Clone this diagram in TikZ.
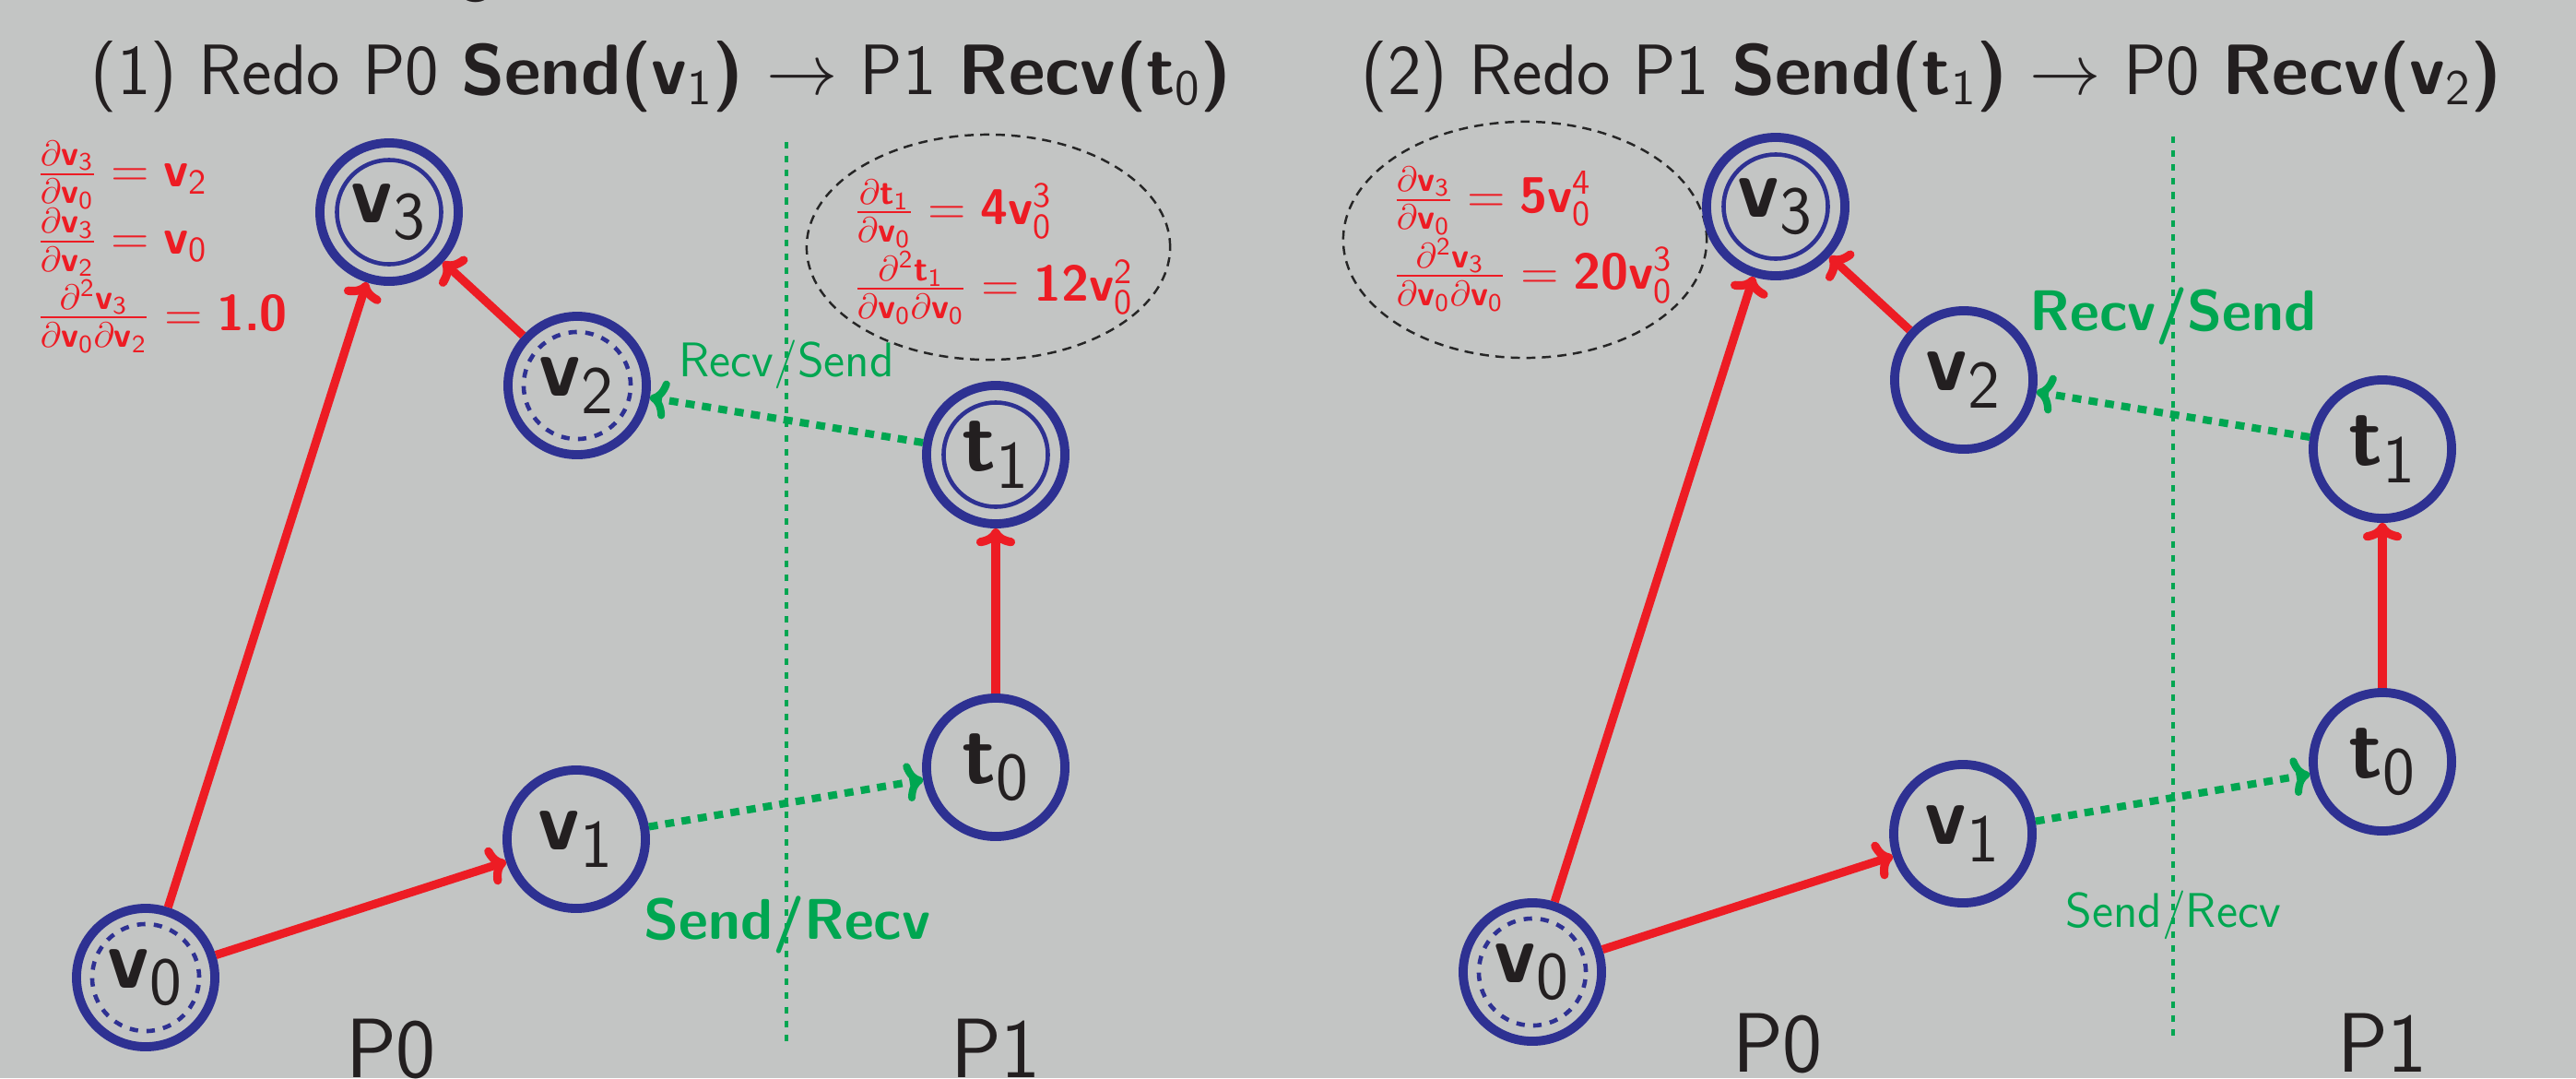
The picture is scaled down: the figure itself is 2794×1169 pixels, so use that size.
\RequirePackage{fix-cm}
\documentclass[tikz,border=0pt]{standalone}
\usepackage{amsmath}
\usepackage{fontspec}
\usetikzlibrary{arrows.meta,shapes.geometric}

\DeclareMathSizes{26}{26}{21}{16}

\definecolor{slidebg}{RGB}{195,197,196}
\definecolor{nodeblue}{RGB}{46,49,146}
\definecolor{edgered}{RGB}{237,28,36}
\definecolor{msggreen}{RGB}{0,166,81}
\definecolor{ink}{RGB}{35,31,32}

% bold sans variables with plain sans indices
\newcommand\myv[1]{\textsf{\bfseries v}_{\textsf{#1}}}
\newcommand\myt[1]{\textsf{\bfseries t}_{\textsf{#1}}}
\newcommand\bnum[1]{\textsf{\bfseries #1}}

\tikzset{
  var/.style={circle, draw=nodeblue, line width=2.8pt, minimum size=1.5cm,
    inner sep=0pt, text=ink, font=\sffamily\fontsize{26}{30}\selectfont},
  outring/.style={path picture={\draw[nodeblue, line width=1.3pt]
    (path picture bounding box.center) circle (0.565cm);}},
  inring/.style={path picture={\draw[nodeblue, line width=1.3pt,
    dash pattern=on 2.6pt off 2.6pt]
    (path picture bounding box.center) circle (0.58cm);}},
  flow/.style={edgered, line width=2.6pt,
    -{Computer Modern Rightarrow[length=5.5pt,width=12pt]}},
  msg/.style={msggreen, line width=2.3pt, dash pattern=on 2.8pt off 2.3pt,
    -{Computer Modern Rightarrow[length=5.5pt,width=12pt]}},
  divider/.style={msggreen, line width=1.3pt, dash pattern=on 2pt off 2.3pt},
  halo/.style={ellipse, draw=black!85, line width=0.7pt,
    dash pattern=on 2.8pt off 2pt, inner sep=0pt},
  deriv/.style={text=edgered, anchor=west, inner sep=0pt,
    font=\sffamily\fontsize{15.5}{18}\selectfont},
  heading/.style={anchor=base west, inner sep=0pt, text=ink,
    font=\sffamily\fontsize{22}{26}\selectfont},
  proc/.style={anchor=base, inner sep=0pt, text=ink,
    font=\sffamily\fontsize{26}{30}\selectfont},
  lblreg/.style={text=msggreen, inner sep=0pt,
    font=\sffamily\fontsize{15}{18}\selectfont},
  lblbold/.style={text=msggreen, inner sep=0pt,
    font=\sffamily\bfseries\fontsize{17.7}{20}\selectfont},
}

\begin{document}
\begin{tikzpicture}[x=0.01cm, y=-0.01cm]
  \fill[slidebg] (0,0) rectangle (2794,1169);
  \useasboundingbox (0,0) rectangle (2794,1169);

  % descender of the slide heading above
  \node[anchor=base, inner sep=0pt, text=ink,
    font=\sffamily\fontsize{21.3}{25}\selectfont] (gfrag) at (516,-13) {g};

  % ---------------- step (1) ----------------
  \node[heading] (head1) at (98,102)
    {(1) Redo P0 \textbf{Send(}$\myv{1}$\textbf{)} $\rightarrow$ P1 \textbf{Recv(}$\myt{0}$\textbf{)}};

  \coordinate (d1t) at (853,154);
  \coordinate (d1b) at (853,1134);
  \draw[divider] (d1t) -- (d1b);

  \node[halo, minimum width=3.94cm, minimum height=2.44cm] (halo1) at (1072,268) {};

  \node[var, inring]  (a0) at (158,1060) {$\myv{0}$};
  \node[var]          (a1) at (625,910)  {$\myv{1}$};
  \node[var, inring]  (a2) at (626,418)  {$\myv{2}$};
  \node[var, outring] (a3) at (422,230)  {$\myv{3}$};
  \node[var]          (b0) at (1080,832) {$\myt{0}$};
  \node[var, outring] (b1) at (1080,493) {$\myt{1}$};

  \draw[flow] (a0) -- (a3);
  \draw[flow] (a0) -- (a1);
  \draw[flow] (a2) -- (a3);
  \draw[flow] (b0) -- (b1);
  \draw[msg] (a1) -- (b0);
  \draw[msg] (b1) -- (a2);

  \node[lblreg]  (rs1) at (853,395)  {Recv/Send};
  \node[lblbold] (sr1) at (854,1003) {Send/Recv};

  \node[deriv] (f1a) at (39,190) {$\frac{\partial\myv{3}}{\partial\myv{0}} = \myv{2}$};
  \node[deriv] (f1b) at (39,263) {$\frac{\partial\myv{3}}{\partial\myv{2}} = \myv{0}$};
  \node[deriv] (f1c) at (39,343) {$\frac{\partial^{\textsf{2}}\myv{3}}{\partial\myv{0}\partial\myv{2}} = \bnum{1.0}$};

  \node[deriv] (f1d) at (925,232) {$\frac{\partial\myt{1}}{\partial\myv{0}} = \bnum{4}\myv{0}^{\textsf{3}}$};
  \node[deriv] (f1e) at (925,312) {$\frac{\partial^{\textsf{2}}\myt{1}}{\partial\myv{0}\partial\myv{0}} = \bnum{12}\myv{0}^{\textsf{2}}$};

  \node[proc] (pa0) at (424,1168) {P0};
  \node[proc] (pa1) at (1080,1168) {P1};

  % ---------------- step (2) ----------------
  \node[heading] (head2) at (1476,102)
    {(2) Redo P1 \textbf{Send(}$\myt{1}$\textbf{)} $\rightarrow$ P0 \textbf{Recv(}$\myv{2}$\textbf{)}};

  \coordinate (d2t) at (2357,148);
  \coordinate (d2b) at (2357,1128);
  \draw[divider] (d2t) -- (d2b);

  \node[halo, minimum width=3.94cm, minimum height=2.56cm] (halo2) at (1654,260) {};

  \node[var, inring]  (c0) at (1662,1054) {$\myv{0}$};
  \node[var]          (c1) at (2129,904)  {$\myv{1}$};
  \node[var]          (c2) at (2130,412)  {$\myv{2}$};
  \node[var, outring] (c3) at (1926,224)  {$\myv{3}$};
  \node[var]          (e0) at (2584,826)  {$\myt{0}$};
  \node[var]          (e1) at (2584,487)  {$\myt{1}$};

  \draw[flow] (c0) -- (c3);
  \draw[flow] (c0) -- (c1);
  \draw[flow] (c2) -- (c3);
  \draw[flow] (e0) -- (e1);
  \draw[msg] (c1) -- (e0);
  \draw[msg] (e1) -- (c2);

  \node[lblbold] (rs2) at (2357,343) {Recv/Send};
  \node[lblreg]  (sr2) at (2357,992) {Send/Recv};

  \node[deriv] (f2a) at (1510,218) {$\frac{\partial\myv{3}}{\partial\myv{0}} = \bnum{5}\myv{0}^{\textsf{4}}$};
  \node[deriv] (f2b) at (1510,298) {$\frac{\partial^{\textsf{2}}\myv{3}}{\partial\myv{0}\partial\myv{0}} = \bnum{20}\myv{0}^{\textsf{3}}$};

  \node[proc] (pc0) at (1928,1162) {P0};
  \node[proc] (pc1) at (2584,1162) {P1};
\end{tikzpicture}
\end{document}
